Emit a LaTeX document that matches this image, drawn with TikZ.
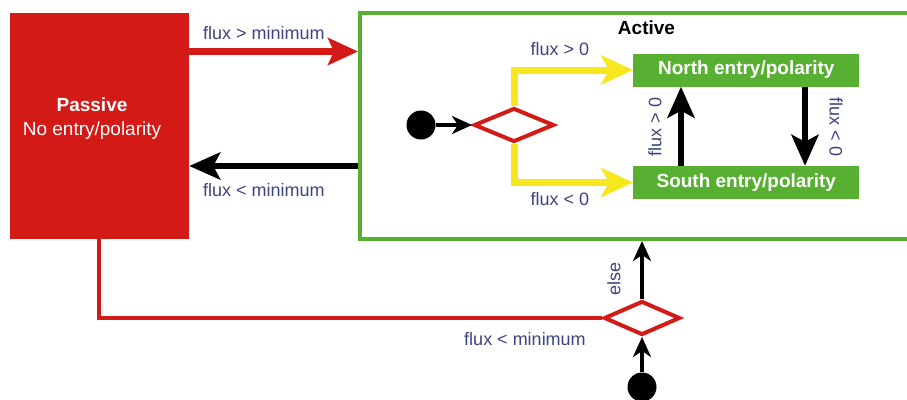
\documentclass[tikz,border=0pt]{standalone}
\usepackage{fontspec}
\setmainfont{Liberation Sans}
\usetikzlibrary{arrows.meta,shapes.geometric}
\definecolor{myred}{HTML}{D31A17}
\definecolor{mygreen}{HTML}{57B031}
\definecolor{myyellow}{HTML}{F7E71F}
\definecolor{mytext}{HTML}{3D4480}
\tikzset{
  lbl/.style={text=mytext,font=\fontsize{18}{21}\selectfont,inner sep=0pt},
  statebox/.style={fill=mygreen,text=white,font=\fontsize{19}{22}\selectfont\bfseries,minimum width=226pt,minimum height=33pt,inner sep=0pt},
  decision/.style={diamond,draw=myred,line width=4pt,fill=white,inner sep=0pt},
  startdot/.style={circle,fill=black,minimum size=29pt,inner sep=0pt},
  bigred/.style={draw=myred,line width=6.5pt,-{Stealth[length=30pt,width=27pt,inset=6pt]}},
  bigblack/.style={draw=black,line width=6.5pt,-{Stealth[length=31pt,width=27pt,inset=7pt]}},
  bigyellow/.style={draw=myyellow,line width=7pt,-{Stealth[length=32pt,width=29pt,inset=8pt]}},
  smallblack/.style={draw=black,line width=4.5pt,-{Stealth[length=20pt,width=18pt,inset=6pt]}},
}
\begin{document}
\begin{tikzpicture}[x=1pt,y=-1pt]
\clip (0,0) rectangle (907,399);
\fill[white] (0,0) rectangle (907,399);
% Passive
\node[fill=myred,minimum width=179pt,minimum height=226pt,inner sep=0pt] (passive) at (99.5,126) {};
\node[text=white,font=\fontsize{19}{24}\selectfont,align=center] (ptext) at (92,119) {\textbf{Passive}\\No entry/polarity};
% Active
\node[draw=mygreen,line width=4pt,minimum width=555pt,minimum height=226pt,inner sep=0pt] (active) at (637.5,126) {};
\node[font=\fontsize{19}{22}\selectfont\bfseries,inner sep=0pt] (actlbl) at (646.5,28) {Active};
% inside active
\node[startdot] (dot1) at (421,125) {};
\node[decision,minimum width=80pt,minimum height=34pt] (d1) at (514,125) {};
\node[statebox] (north) at (746.3,70) {North entry/polarity};
\node[statebox] (south) at (746.3,182.5) {South entry/polarity};
\draw[smallblack] (dot1.east) -- (d1.west);
\draw[bigyellow] (d1.north) |- (north.west);
\draw[bigyellow] (d1.south) |- (south.west);
\node[lbl] (l1) at (560,49) {flux > 0};
\node[lbl] (l2) at (560,199) {flux < 0};
\draw[bigblack] (south.north -| {(681,0)}) -- (north.south -| {(681,0)});
\draw[bigblack] (north.south -| {(805,0)}) -- (south.north -| {(805,0)});
\node[lbl,rotate=90] (l3) at (655,127) {flux > 0};
\node[lbl,rotate=-90] (l4) at (836,127) {flux < 0};
% between passive and active
\draw[bigred] (passive.east |- {(0,51.5)}) -- (active.west |- {(0,51.5)});
\draw[bigblack] (active.west |- {(0,166)}) -- (passive.east |- {(0,166)});
\node[lbl] (l5) at (264,33) {flux > minimum};
\node[lbl] (l6) at (264,190) {flux < minimum};
% bottom
\node[decision,minimum width=76pt,minimum height=34pt] (d2) at (642,318) {};
\node[startdot] (dot2) at (642,387) {};
\draw[myred,line width=4pt] (passive.south -| {(99,0)}) |- (d2.west);
\draw[smallblack] (dot2.north) -- (d2.south);
\draw[smallblack] (d2.north) -- (active.south -| d2.north);
\node[lbl,rotate=90] (l7) at (614,279) {else};
\node[lbl] (l8) at (525,339) {flux < minimum};
\end{tikzpicture}
\end{document}
